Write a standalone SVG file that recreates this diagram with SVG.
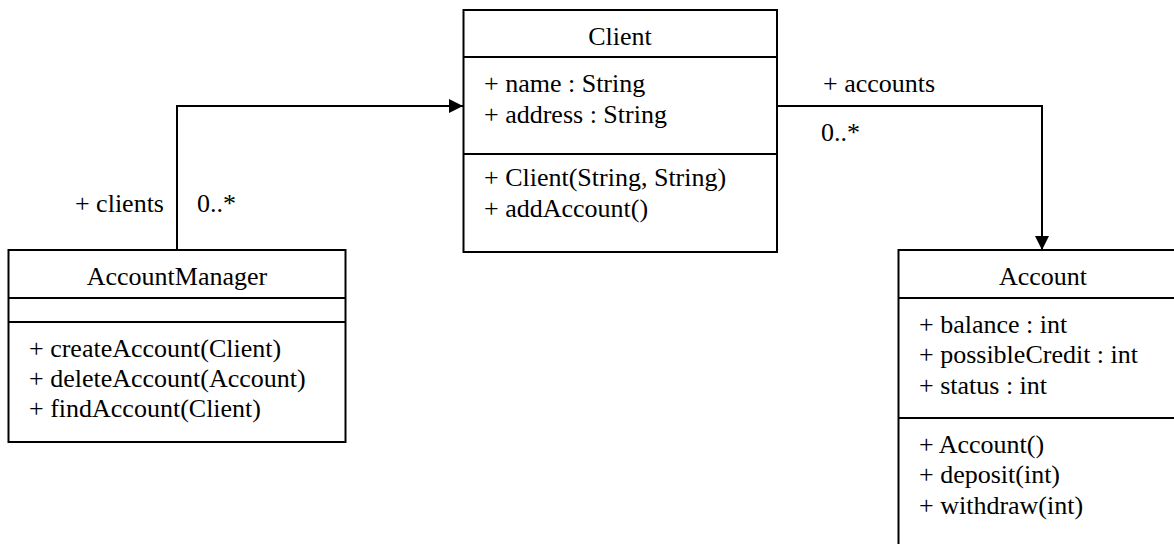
<svg xmlns="http://www.w3.org/2000/svg" width="1174" height="544" viewBox="0 0 1174 544">
<style>
.box{fill:#fff;stroke:#000;stroke-width:2}
.div{stroke:#000;stroke-width:2}
.t{font-family:"Liberation Serif","Times New Roman",serif;font-size:26px;fill:#000}
.c{text-anchor:middle}
.e{text-anchor:end}
.conn{fill:none;stroke:#000;stroke-width:2}
</style>
<defs>
<marker id="arr" viewBox="0 0 14 14" refX="14" refY="7" markerWidth="14" markerHeight="14" markerUnits="userSpaceOnUse" orient="auto">
<path d="M0,0 L14,7 L0,14 Z" fill="#000"/>
</marker>
</defs>
<g id="connectors">
<path class="conn" d="M177,250 V106 H463" marker-end="url(#arr)"/>
<path class="conn" d="M777,106 H1042 V250" marker-end="url(#arr)"/>
<text class="t e" x="164" y="212">+ clients</text>
<text class="t" x="197" y="212">0..*</text>
<text class="t" x="823" y="92">+ accounts</text>
<text class="t" x="821" y="141">0..*</text>
</g>
<g id="Client">
<rect class="box" x="463.5" y="10" width="313.5" height="242"/>
<line class="div" x1="463.5" y1="57" x2="777" y2="57"/>
<line class="div" x1="463.5" y1="154" x2="777" y2="154"/>
<text class="t c" x="620" y="45">Client</text>
<text class="t" x="484" y="92">+ name : String</text>
<text class="t" x="484" y="123">+ address : String</text>
<text class="t" x="484" y="186">+ Client(String, String)</text>
<text class="t" x="484" y="217">+ addAccount()</text>
</g>
<g id="AccountManager">
<rect class="box" x="8.5" y="250" width="337" height="192"/>
<line class="div" x1="8.5" y1="298" x2="345.5" y2="298"/>
<line class="div" x1="8.5" y1="322" x2="345.5" y2="322"/>
<text class="t c" x="177" y="285">AccountManager</text>
<text class="t" x="29" y="357">+ createAccount(Client)</text>
<text class="t" x="29" y="387">+ deleteAccount(Account)</text>
<text class="t" x="29" y="417">+ findAccount(Client)</text>
</g>
<g id="Account">
<rect class="box" x="898.5" y="250" width="300" height="310"/>
<line class="div" x1="898.5" y1="298" x2="1174" y2="298"/>
<line class="div" x1="898.5" y1="418" x2="1174" y2="418"/>
<text class="t c" x="1043" y="285">Account</text>
<text class="t" x="919" y="333">+ balance : int</text>
<text class="t" x="919" y="363">+ possibleCredit : int</text>
<text class="t" x="919" y="394">+ status : int</text>
<text class="t" x="919" y="453">+ Account()</text>
<text class="t" x="919" y="483">+ deposit(int)</text>
<text class="t" x="919" y="514">+ withdraw(int)</text>
</g>
</svg>
